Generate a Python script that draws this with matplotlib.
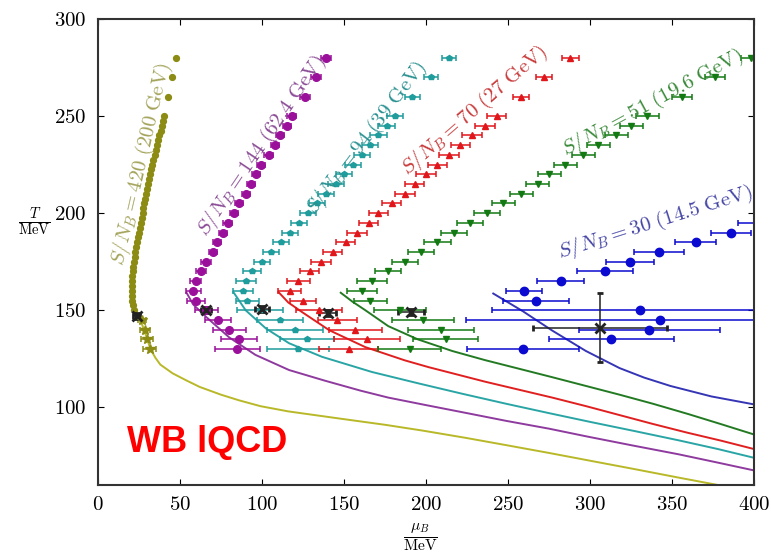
import matplotlib.pyplot as plt

plt.rcParams['font.family'] = 'serif'
plt.rcParams['font.serif'] = ['cmr10']
plt.rcParams['mathtext.fontset'] = 'cm'
plt.rcParams['axes.formatter.use_mathtext'] = True

# temperature grid of the lattice points (MeV)
T_grid = [130, 135, 140, 145, 150, 155, 160, 165, 170, 175, 180, 185, 190, 195,
          200, 205, 210, 215, 220, 225, 230, 235, 240, 245, 250, 260, 270, 280]

# S/N_B = 144 (62.4 GeV)
mu_144 = [85, 86, 80, 73, 66, 59.5, 58, 59.5, 63, 66, 70, 72.5, 76, 79, 83, 86,
          90, 93.5, 96.5, 99.5, 104, 108, 111, 115, 118, 126, 133, 139]
err_144 = [13.5, 11, 10, 8, 7, 5.5, 4.5, 3.5, 3, 3, 2.5, 2.5, 2.5, 2.5, 2.5, 2.5,
           2.5, 2.5, 2.5, 2.5, 2.5, 2.5, 2.5, 2.5, 2.5, 3, 3, 3]

# S/N_B = 94 (39 GeV)
mu_94 = [122, 127.5, 120, 111, 99, 91, 88.6, 90.4, 94, 100, 105.6, 111.7, 117, 122.5,
         128, 133.5, 139, 145, 150, 155.5, 161, 166, 171, 176, 181, 191.6, 203, 214]
err_94 = [19, 16.5, 17, 14, 14, 7, 6, 6, 5.5, 5, 5, 5, 5, 5, 5, 5, 5, 5, 5, 5, 5,
          5, 5, 5, 5, 4.5, 4.5, 4.5]

# S/N_B = 70 (27 GeV)
mu_70 = [153, 164, 157, 146, 135, 125, 117, 122, 129, 136, 143, 151, 158, 165, 171,
         179, 187, 193, 200, 207, 214, 221, 228, 236, 243, 258, 272, 288]
err_70 = [18, 20, 16, 12, 14, 8, 7, 7, 6, 6, 6, 6, 6, 6, 6, 6, 6, 6, 6, 6, 6, 6, 6,
          6, 6, 5, 5, 5]

# S/N_B = 51 (19.6 GeV)
mu_51 = [190, 212, 209, 198, 184, 166, 161, 167, 177, 187, 197, 207, 217, 227, 237,
         247, 258, 268, 275, 285, 296, 305, 316, 325, 335, 356, 376, 398]
err_51 = [19, 20, 20, 19, 16, 10, 9, 9, 8, 8, 8, 8, 8, 8, 8, 7, 7, 7, 7, 7, 7, 7, 7,
          7, 7, 6, 6, 6]

# S/N_B = 30 (14.5 GeV)
T_30 = [130, 135, 140, 145, 150, 155, 160, 165, 170, 175, 180, 185, 190, 195]
mu_30 = [259, 313, 336, 342.5, 330.5, 267, 260, 282, 309, 324.5, 342, 364.4, 386, 408]
err_30 = [34, 38, 43, 118, 90, 20, 11, 14.5, 17, 14.7, 15, 12.5, 12, 18]

# S/N_B = 420 (200 GeV)
T_420_low = [130, 135, 140, 145]
mu_420_low = [31.6, 30, 28.5, 26.7]
err_420_low = [4, 3.5, 3, 2.5]
T_420 = [150, 152.5, 155, 157.5, 160, 162.5, 165, 167.5, 170, 172.5, 175, 177.5, 180,
         182.5, 185, 187.5, 190, 192.5, 195, 197.5, 200, 202.5, 205, 207.5, 210,
         212.5, 215, 217.5, 220, 222.5, 225, 227.5, 230, 232.5, 235, 237.5, 240,
         242.5, 245, 247.5, 250, 260, 270, 280]
mu_420 = [21.8, 21.2, 20.8, 20.7, 20.6, 20.7, 20.8, 21.0, 21.3, 21.6, 22.0, 22.4, 22.8,
          23.3, 23.8, 24.4, 25.0, 25.6, 26.2, 26.7, 27.2, 27.7, 28.3, 28.8, 29.4,
          29.9, 30.5, 31.1, 31.7, 32.4, 33.1, 33.8, 34.6, 35.4, 36.1, 36.8, 37.5,
          38.2, 39.0, 39.7, 40.5, 42.5, 45, 47.5]

# isentropic curves
c420_mu = [21, 20.6, 22, 24, 26.7, 28.5, 30, 32, 35, 38, 45.5, 54, 62, 75, 86, 99,
           116, 133, 150, 175, 198, 224, 249, 275, 300, 327, 354, 376, 382]
c420_T = [170, 160, 152, 147, 143, 139, 135, 130, 125.5, 122, 117.5, 113.8, 110.5,
          106.5, 103.6, 100.6, 97.9, 95.9, 93.9, 91, 88, 84.3, 80.5, 76.5, 72.5,
          68.2, 63.8, 60.3, 59.3]
c144_mu = [54, 58, 66, 80, 96, 116.5, 138, 160, 177, 199, 225, 249, 275, 298, 325,
           354, 378, 400]
c144_T = [159, 153, 146.5, 136, 127, 119.2, 113.8, 108.6, 105, 101.3, 97, 93, 89,
          85, 80.5, 75.8, 71.5, 67.5]
c94_mu = [82.5, 90, 102.4, 116.5, 136.6, 167, 196, 222, 249, 275, 300, 327, 354,
          378, 400]
c94_T = [159.4, 150, 140.6, 133, 126, 118.2, 112.2, 107, 101.8, 97, 92.5, 87.8, 83,
         78.5, 74]
c70_mu = [110, 116, 124.5, 141, 163, 187, 201.5, 236, 257, 277, 298, 318, 338, 359,
          380, 400]
c70_T = [159.4, 154, 149, 139.7, 131, 124.2, 120.7, 113.2, 109, 105, 100.5, 96,
         91.5, 87, 82.8, 78.5]
c51_mu = [148, 155, 163, 177, 195, 216, 236, 257, 277, 297.5, 318, 338.5, 360, 380,
          400]
c51_T = [159, 154.5, 150, 141.8, 135, 129, 124.3, 119.8, 115.5, 111, 106.5, 101.8,
         96.5, 91.3, 86]
c30_mu = [241, 259, 277, 297.5, 318, 333, 349, 374, 400]
c30_T = [158.6, 149.5, 139.5, 129, 120.2, 115.3, 111, 105.6, 101.5]

# chemical freeze-out points
fo_mu = [23.5, 66, 100, 140, 191, 306]
fo_T = [147, 150, 150.8, 148.6, 149, 141]
fo_xerr = [2, 3, 4, 5, 8, 41]
fo_yerr = [1.5, 1.5, 1.5, 1.5, 1.5, 17.8]

fig = plt.figure(figsize=(7.71, 5.53), dpi=100)
ax = fig.add_axes([0.1271, 0.1230, 0.8509, 0.8427])

# curves
ax.plot(c420_mu, c420_T, color='#b8b828', lw=1.4)
ax.plot(c144_mu, c144_T, color='#8e3a9e', lw=1.4)
ax.plot(c94_mu, c94_T, color='#2aa5a5', lw=1.4)
ax.plot(c70_mu, c70_T, color='#e02020', lw=1.4)
ax.plot(c51_mu, c51_T, color='#237a23', lw=1.4)
ax.plot(c30_mu, c30_T, color='#3535b5', lw=1.4)

ekw = dict(linestyle='none', elinewidth=1.1, capsize=2.5, capthick=1.1)
ax.errorbar(mu_420_low, T_420_low, xerr=err_420_low, fmt='*', ms=7,
            color='#8c8c14', **ekw)
ax.plot(mu_420, T_420, 'o', ms=4.2, color='#8c8c14')
ax.errorbar(mu_144, T_grid, xerr=err_144, fmt='o', ms=5.5, color='#9a109a', **ekw)
ax.errorbar(mu_94, T_grid, xerr=err_94, fmt='p', ms=4, color='#1f9c9c', **ekw)
ax.errorbar(mu_70, T_grid, xerr=err_70, fmt='^', ms=5, color='#e0161b', **ekw)
ax.errorbar(mu_51, T_grid, xerr=err_51, fmt='v', ms=5, color='#137a13', **ekw)
ax.errorbar(mu_30, T_30, xerr=err_30, fmt='o', ms=6, color='#0a0ad0', **ekw)
ax.errorbar(fo_mu, fo_T, xerr=fo_xerr, yerr=fo_yerr, fmt='x', ms=7, mew=2,
            color='#222222', linestyle='none', elinewidth=1.1, capsize=2,
            capthick=1.1)

# series labels
lab = dict(fontsize=15, ha='center', va='center', rotation_mode='anchor')
ax.text(26.4, 225.5, r'$S/N_B = 420\ (200\ \mathrm{GeV})$', rotation=77,
        color='#a3a35a', **lab)
ax.text(100, 234.5, r'$S/N_B = 144\ (62.4\ \mathrm{GeV})$', rotation=56,
        color='#8a4a95', **lab)
ax.text(163.6, 238.7, r'$S/N_B = 94\ (39\ \mathrm{GeV})$', rotation=53,
        color='#2a9090', **lab)
ax.text(229.4, 252.6, r'$S/N_B = 70\ (27\ \mathrm{GeV})$', rotation=41,
        color='#c83a3a', **lab)
ax.text(338, 256.7, r'$S/N_B = 51\ (19.6\ \mathrm{GeV})$', rotation=28.5,
        color='#3a8a3a', **lab)
ax.text(340, 195, r'$S/N_B = 30\ (14.5\ \mathrm{GeV})$', rotation=17.6,
        color='#4545a5', **lab)

ax.text(17.6, 77, 'WB lQCD', color='#ff0000', fontsize=26, fontweight='bold',
        family='Liberation Sans', ha='left', va='baseline')

ax.set_xlim(0, 400)
ax.set_ylim(60, 300)
ax.set_xticks([0, 50, 100, 150, 200, 250, 300, 350, 400])
ax.set_yticks([100, 150, 200, 250, 300])
ax.tick_params(direction='in', top=True, right=True, length=4, labelsize=15, pad=8)
for s in ax.spines.values():
    s.set_linewidth(1.5)
    s.set_color('#333333')

ax.text(-0.097, 0.564, r'$\frac{T}{\mathrm{MeV}}$', transform=ax.transAxes,
        fontsize=15, ha='center', va='center')
ax.text(0.492, -0.112, r'$\frac{\mu_B}{\mathrm{MeV}}$', transform=ax.transAxes,
        fontsize=16, ha='center', va='center')

fig.savefig('out.png', dpi=100)
